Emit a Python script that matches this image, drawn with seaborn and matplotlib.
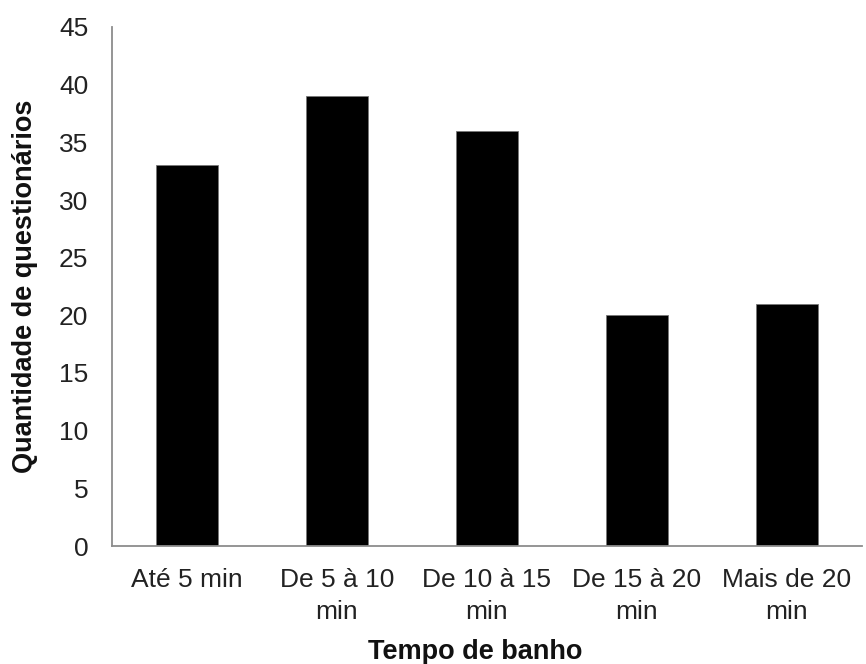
import matplotlib
matplotlib.use("Agg")
import matplotlib.pyplot as plt
import seaborn as sns
import pandas as pd

categories = ["Até 5 min", "De 5 à 10\nmin", "De 10 à 15\nmin", "De 15 à 20\nmin", "Mais de 20\nmin"]
values = [33, 39, 36, 20, 21]
y_ticks = [0, 5, 10, 15, 20, 25, 30, 35, 40, 45]

sns.set_theme(style="white")
plt.rcParams['font.family'] = ['Liberation Sans', 'DejaVu Sans']

df = pd.DataFrame({"cat": categories, "val": values})

fig = plt.figure(figsize=(8.66, 6.64), dpi=100)
ax = fig.add_axes([112/866, 1-546/664, (862-112)/866, (546-27)/664])

sns.barplot(data=df, x="cat", y="val", color="black", saturation=1, width=0.41,
            edgecolor="#777777", linewidth=0.6, ax=ax)

ax.set_ylim(0, 45)
ax.set_yticks(y_ticks)
ax.set_xlim(-0.5, len(categories) - 0.5)

for s in ["top", "right"]:
    ax.spines[s].set_visible(False)
for s in ["left", "bottom"]:
    ax.spines[s].set_color("#8c8c8c")
    ax.spines[s].set_linewidth(1.3)

ax.tick_params(axis="y", length=0, pad=17, labelsize=19, labelcolor="#222222")
ax.tick_params(axis="x", length=0, pad=16, labelsize=19, labelcolor="#222222")
for lab in ax.get_xticklabels():
    lab.set_linespacing(1.42)

ax.set_ylabel("Quantidade de questionários", fontsize=19.5, fontweight="bold",
              color="#111111", labelpad=15)
ax.set_xlabel("Tempo de banho", fontsize=19.5, fontweight="bold",
              color="#111111", labelpad=11)
ax.xaxis.label.set_x(0.484)

fig.savefig("out.png", dpi=100)
